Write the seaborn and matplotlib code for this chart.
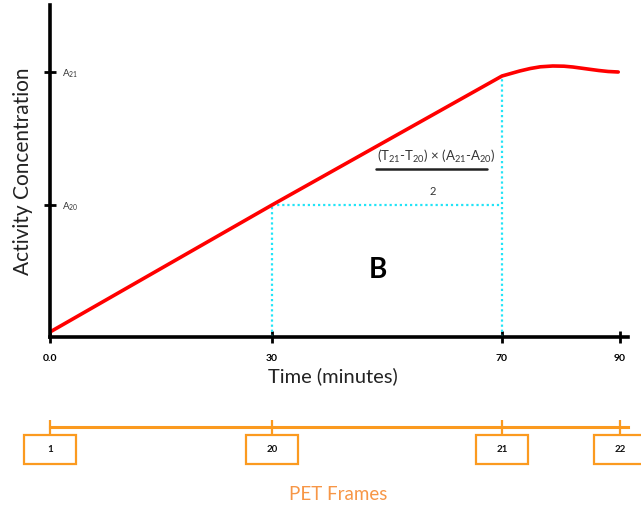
import numpy as np
import matplotlib
matplotlib.use("Agg")
import matplotlib.pyplot as plt
import matplotlib.transforms as mtransforms
from matplotlib.patches import Rectangle
import seaborn as sns
import pandas as pd

# ---------------- data ----------------
time_min = [0, 30, 70, 71.5, 73, 74.8, 76.5, 78.6, 80.5, 82, 83.5, 85, 86.4, 88, 89.7]
activity = [5, 132, 261, 263.5, 266, 268.5, 270.2, 271, 270.8, 270, 268.8, 267.6, 266.5, 265.5, 265]
tick_times = [0, 30, 70, 90]
tick_labels = ["0.0", "30", "70", "90"]
y_tick_values = [132, 265]
y_tick_labels = ["A$_{20}$", "A$_{21}$"]
frame_labels = ["1", "20", "21", "22"]
t_a, t_b = 30, 70
a_20 = 132
a_curve_70 = 261

# schematic (non-proportional) time axis: tick times -> layout positions
knot_t = np.array([-10, 0, 30, 70, 90, 100], dtype=float)
knot_p = np.array([-74, 0, 222, 452, 570, 629], dtype=float)


def fwd(t):
    return np.interp(t, knot_t, knot_p)


def inv(p):
    return np.interp(p, knot_p, knot_t)


sns.set_style("white")
plt.rcParams["font.family"] = ["Lato", "DejaVu Sans"]
plt.rcParams["mathtext.fontset"] = "custom"
plt.rcParams["mathtext.rm"] = "Lato"
plt.rcParams["mathtext.it"] = "Lato"
plt.rcParams["mathtext.bf"] = "Lato:bold"

W, H = 641, 511
fig = plt.figure(figsize=(W / 100, H / 100), dpi=100)

ax = fig.add_axes([50 / W, (H - 337) / H, 578 / W, 332 / H])
ax.set_xscale("function", functions=(fwd, inv))
xmax = float(inv(578))
ax.set_xlim(0, xmax)
ax.set_ylim(0, 332)

df = pd.DataFrame({"time": time_min, "activity": activity})

cyan = "#22e4f7"
dots = (0, (1, 1.3))
ax.vlines([t_a], 0, a_20, colors=cyan, linestyles=dots, lw=1.6, zorder=2)
ax.vlines([t_b], 0, a_curve_70, colors=cyan, linestyles=dots, lw=1.6, zorder=2)
ax.hlines([a_20], t_a, t_b, colors=cyan, linestyles=dots, lw=1.6, zorder=2)

sns.lineplot(data=df, x="time", y="activity", ax=ax, color="#ff0000",
             lw=2.6, estimator=None, sort=False, zorder=3)

for s in ["top", "right"]:
    ax.spines[s].set_visible(False)
for s in ["left", "bottom"]:
    ax.spines[s].set_linewidth(2.6)
    ax.spines[s].set_color("black")
    ax.spines[s].set_zorder(4)

ax.set_xticks(tick_times)
ax.set_xticklabels(tick_labels)
ax.tick_params(axis="x", bottom=True, direction="inout", length=9, width=2,
               colors="black", labelsize=7.5, pad=7.5)
for lbl in ax.get_xticklabels():
    lbl.set_fontweight("bold")

ax.set_yticks(y_tick_values)
ax.set_yticklabels(y_tick_labels)
ax.tick_params(axis="y", left=True, direction="inout", length=8.5, width=2,
               colors="black", labelsize=7, pad=-13, labelcolor="#333333")
for lbl in ax.get_yticklabels():
    lbl.set_horizontalalignment("left")

ax.set_xlabel("Time (minutes)", fontsize=14.5, color="#222222")
ax.xaxis.set_label_coords((333 - 50) / 578, (337 - 367) / 332)
ax.set_ylabel("Activity Concentration", fontsize=15, color="#222222")
ax.yaxis.set_label_coords((33 - 50) / 578, 0.5)

ax.text((436 - 50) / 578, (337 - 156) / 332,
        "(T$_{21}$-T$_{20}$) × (A$_{21}$-A$_{20}$)", transform=ax.transAxes,
        ha="center", va="center", fontsize=9.5, color="#333333")
ax.plot([(376 - 50) / 578, (487 - 50) / 578], [(337 - 169) / 332] * 2,
        transform=ax.transAxes, color="#222222", lw=1.8, clip_on=False)
ax.text((433 - 50) / 578, (337 - 191) / 332, "2", transform=ax.transAxes,
        ha="center", va="center", fontsize=8, color="#333333")
ax.text((378 - 50) / 578, (337 - 270) / 332, "B", transform=ax.transAxes,
        ha="center", va="center", fontsize=20, fontweight="bold", color="black")

# ---------------- PET frames axis ----------------
orange = "#fb9a1f"
ax2h = 20 / H
ax2 = fig.add_axes([50 / W, (H - 427) / H, 578 / W, ax2h])
ax2.set_facecolor("none")
ax2.set_xscale("function", functions=(fwd, inv))
ax2.set_xlim(0, xmax)
ax2.set_ylim(0, 1)
for s in ["top", "right", "left"]:
    ax2.spines[s].set_visible(False)
ax2.spines["bottom"].set_color(orange)
ax2.spines["bottom"].set_linewidth(2.2)
ax2.set_yticks([])
ax2.set_xticks(tick_times)
ax2.tick_params(axis="x", bottom=True, direction="inout", length=10.5, width=1.6,
                color=orange, labelbottom=False)

for t, lab in zip(tick_times, frame_labels):
    trans = fig.dpi_scale_trans + mtransforms.ScaledTranslation(t, 0, ax2.transData)
    rect = Rectangle((-0.26, -0.37), 0.52, 0.29, transform=trans,
                     facecolor="white", edgecolor=orange, lw=1.6,
                     clip_on=False, zorder=3)
    ax2.add_artist(rect)
    ax2.text(0, -0.225, lab, transform=trans, ha="center", va="center",
             fontsize=7, fontweight="bold", color="#111111", zorder=4,
             clip_on=False)

ax2.set_xlabel("PET Frames", fontsize=13.5, color="#f79646")
ax2.xaxis.set_label_coords((338 - 50) / 578, (427 - 486) / 20)

fig.savefig("out.png", dpi=100)
